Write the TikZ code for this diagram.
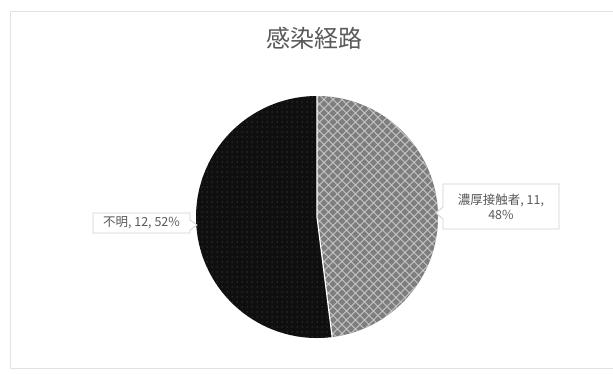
\documentclass[tikz,border=0pt]{standalone}
\usepackage{fontspec}
\newfontfamily\jp{Noto Sans CJK JP}
\usetikzlibrary{patterns.meta}
\definecolor{txtgray}{HTML}{595959}
\definecolor{framegray}{HTML}{E2E2E2}
\definecolor{boxgray}{HTML}{D0D0D0}
\definecolor{darkslice}{HTML}{0F0F0F}
\definecolor{lightslice}{HTML}{7E7E7E}
\tikzdeclarepattern{name=mydiamonds, type=uncolored,
  bounding box={(-.5pt,-.5pt) and (9.5pt,9.5pt)}, tile size={(9pt,9pt)},
  code={\draw[line width=1pt] (0,4.5pt) -- (4.5pt,9pt) -- (9pt,4.5pt) -- (4.5pt,0) -- cycle;}}
\tikzdeclarepattern{name=mydots, type=uncolored,
  bounding box={(0pt,0pt) and (5pt,5pt)}, tile size={(5pt,5pt)},
  code={\fill (2.5pt,2.5pt) circle (0.9pt);}}
\tikzset{
  lbl/.style={font=\jp\fontsize{12.5}{15}\selectfont, text=txtgray, align=center, inner sep=0pt},
  callout/.style={draw=boxgray, line width=0.8pt, fill=white},
  slicesep/.style={draw=white, line width=1.2pt}
}
\begin{document}
\begin{tikzpicture}[x=1pt,y=-1pt]
\useasboundingbox (0,0) rectangle (613,374);
\fill[white] (0,0) rectangle (613,374);
\draw[framegray, line width=1pt] (10,368) -- (10,12) -- (620,12);
\draw[framegray, line width=1pt] (10,368) -- (620,368);
% title
\node[font=\jp\fontsize{24}{28}\selectfont, text=txtgray] (title) at (314,38) {感染経路};
% pie
\coordinate (c) at (317,217);
\fill[darkslice] (c) -- ++(82.8:121) arc[start angle=82.8, end angle=270, radius=121] -- cycle;
\fill[pattern={mydots}, pattern color=black!78!white] (c) -- ++(82.8:121) arc[start angle=82.8, end angle=270, radius=121] -- cycle;
\fill[lightslice] (c) -- ++(-90:121) arc[start angle=-90, end angle=82.8, radius=121] -- cycle;
\fill[pattern={mydiamonds}, pattern color=white!55!lightslice] (c) -- ++(-90:121) arc[start angle=-90, end angle=82.8, radius=121] -- cycle;
\draw[slicesep] (c) ++(-90:121) -- (c) -- ++(82.8:121);
% left label
\path[callout] (93,213) -- (190,213) -- (190,220) -- (197,225) -- (190,230) -- (190,233) -- (93,233) -- cycle;
\node[lbl] (l1) at (141.5,223) {不明, 12, 52\%};
% right label
\path[callout] (443,184) -- (559,184) -- (559,229) -- (443,229) -- (443,219) -- (436,213) -- (443,207) -- cycle;
\node[lbl] (l2) at (501,206.5) {濃厚接触者, 11,\\48\%};
\end{tikzpicture}
\end{document}
